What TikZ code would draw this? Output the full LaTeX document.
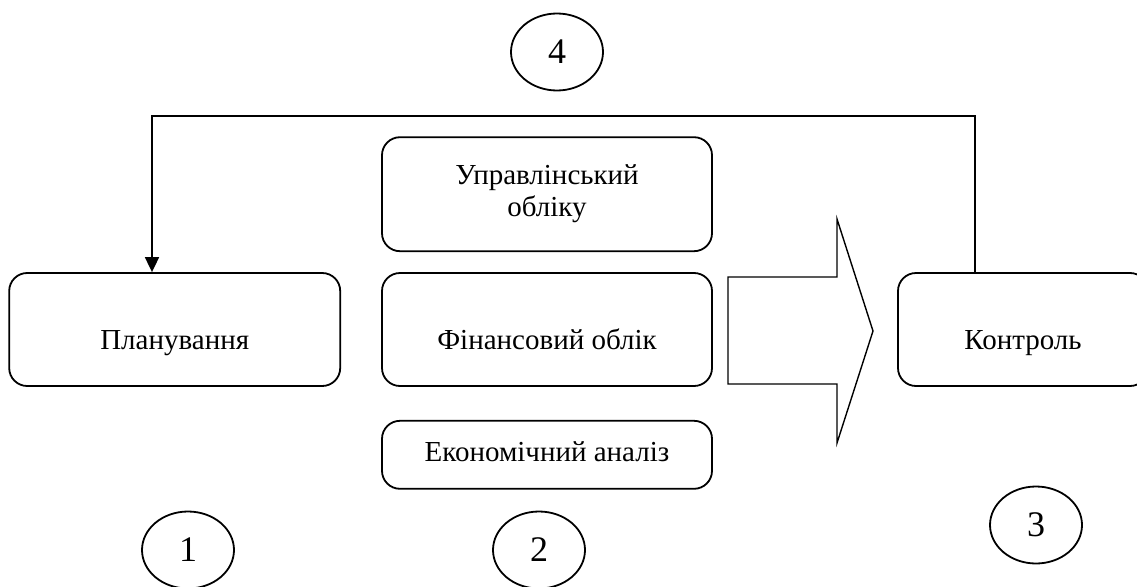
\documentclass[tikz,border=0pt]{standalone}
\usepackage{fontspec}
\setmainfont{Liberation Serif}
\usetikzlibrary{arrows.meta,positioning,shapes.geometric}

\begin{document}
\begin{tikzpicture}[
  x=1pt, y=-1pt,
  font=\fontsize{29}{32}\selectfont,
  box/.style={draw, rounded corners=18pt, line width=1.8pt, align=center, minimum width=330pt, minimum height=113pt, inner sep=2pt},
  low/.style={text height=39pt, text depth=0pt},
  num/.style={draw, ellipse, line width=1.8pt, minimum width=92pt, minimum height=77pt, inner sep=0pt, font=\fontsize{36}{40}\selectfont},
  arrow/.style={-{Triangle[length=15pt, width=14pt]}, line width=1.8pt},
  bigarrow/.style={draw, line width=1.4pt, line join=miter},
]
\useasboundingbox (0,0) rectangle (1137,586);
% --- middle column ---
\node[box, low] (fin) at (547,329.5) {Фінансовий облік};
\node[box, above=20pt of fin, minimum height=114pt] (upr) {Управлінський\\ обліку};
\node[box, below=33pt of fin, minimum height=68pt, text height=20pt, text depth=7pt] (econ) {Економічний аналіз};
% --- left and right boxes ---
\node[box, low, left=40pt of fin, minimum width=331pt] (plan) {Планування};
\node[box, low, minimum width=250pt] (kontrol) at (1023,329.5) {Контроль};
% --- block arrow ---
\draw[bigarrow] (728,277) -- (837,277) -- (837,219) -- (873,331) -- (837,443) -- (837,384) -- (728,384) -- cycle;
% --- numbers ---
\node[num] (n4) at (557,52) {4};
\node[num] (n1) at (188,550) {1};
\node[num] (n2) at (539,550) {2};
\node[num] (n3) at (1036,525) {3};
% --- feedback ---
\coordinate (fbR) at (975,116);
\coordinate (fbL) at (152,116);
\draw[arrow] (kontrol.north -| fbR) -- (fbR) -- (fbL) -- (fbL |- plan.north);
\end{tikzpicture}
\end{document}
